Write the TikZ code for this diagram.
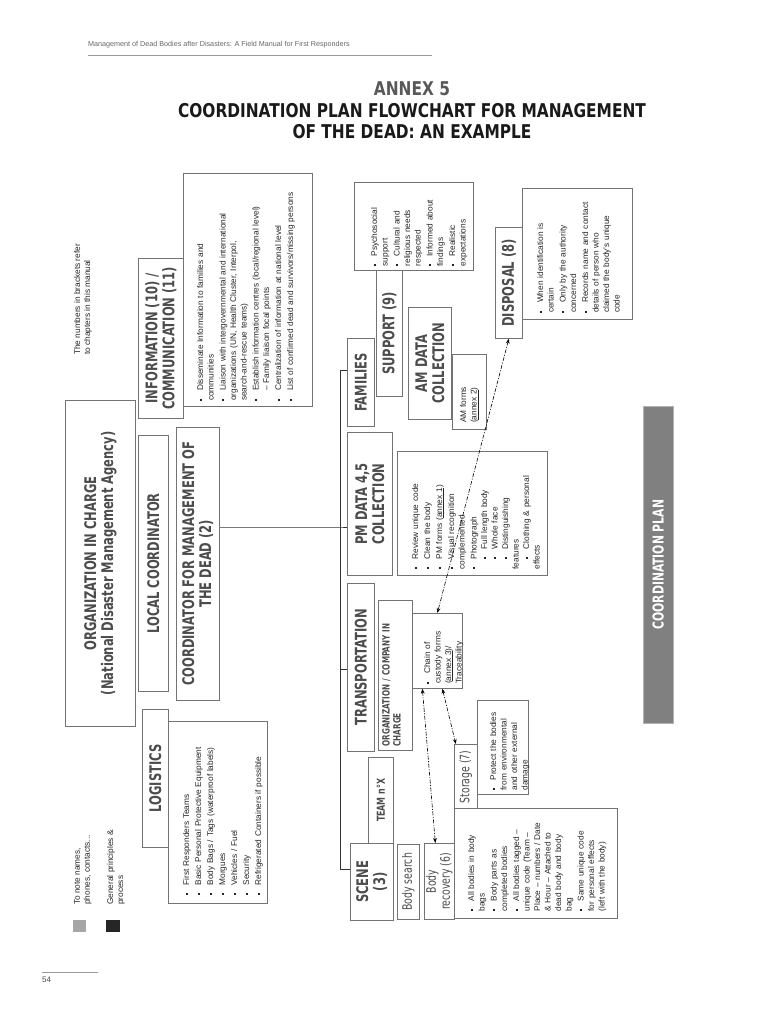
\documentclass[tikz,border=0pt]{standalone}
\usepackage{fontspec}
\setmainfont{Liberation Sans}
\newfontfamily\hd[FakeStretch=0.8]{DejaVu Sans Condensed}
\newfontfamily\ttl[FakeStretch=0.9]{DejaVu Sans Condensed}
\usetikzlibrary{arrows.meta}
\newcommand\itm[1]{\par\vspace{1.5pt}\hangindent=10pt\hangafter=1\noindent\makebox[10pt][l]{\rule[1.5pt]{2.2pt}{2.2pt}}#1}
\newcommand\sitm[1]{\par\hangindent=20pt\hangafter=1\noindent\hspace*{10pt}\makebox[10pt][l]{\rule[1.5pt]{2pt}{2pt}}#1}
\newcommand\nitm[1]{\par\hangindent=10pt\hangafter=1\noindent\hspace*{10pt}#1}
\newcommand\BX[6]{\node[bx,anchor=north west,minimum width={(#4-#2)*1pt},minimum height={(#5-#3)*1pt},#6] (#1) at (#2,#3) {};}
\newcommand\HT[3][]{\node[rotate=90,hdt,#1] at (#2.center) {#3};}
\newcommand\CT[4]{\node[rotate=90,anchor=north,ct,text width=#3] at ([xshift=#4]#1.west) {\noindent\ignorespaces};}
\begin{document}
\begin{tikzpicture}[x=1pt,y=-1pt,
  bx/.style={draw=black!55,line width=0.7pt,inner sep=0pt,fill=white},
  hdt/.style={font={\hd\bfseries\fontsize{16}{17}\selectfont},text=black!70,align=center,inner sep=0pt},
  ct/.style={font={\fontsize{8.3}{10.5}\selectfont},align=left,inner sep=0pt,text=black!85},
  link/.style={line width=0.9pt,draw=black!80},
  dd/.style={line width=0.6pt,dash pattern=on 4pt off 1.5pt on 1pt off 1.5pt,{Stealth[length=5pt]}-{Stealth[length=5pt]}}]
\useasboundingbox (0,0) rectangle (770,1024);
% page header
\node[anchor=west,font=\fontsize{7.2}{8}\selectfont,text=black!60,inner sep=0] (runhead) at (88,45) {Management of Dead Bodies after Disasters: A Field Manual for First Responders};
\draw[black!40,line width=0.5pt] (88,55) -- (432,55);
\node[font={\ttl\bfseries\fontsize{19}{21}\selectfont},text=black!65,inner sep=0] (annex) at (412,89) {ANNEX 5};
\node[font={\ttl\bfseries\fontsize{19}{21}\selectfont},text=black!90,inner sep=0,align=center] (title) at (412,121) {COORDINATION PLAN FLOWCHART FOR MANAGEMENT\\OF THE DEAD: AN EXAMPLE};
% page number
\draw[black!40,line width=0.5pt] (42,972) -- (98,972);
\node[anchor=north west,font=\fontsize{8}{9}\selectfont,text=black!70,inner sep=0] (pnum) at (42,977) {54};
% legend
\node[rotate=90,anchor=north west,font={\fontsize{8.3}{10}\selectfont},align=left,inner sep=0,text=black!85] (note1) at (74,355) {The numbers in brackets refer\\to chapters in this manual};
\node[rotate=90,anchor=north west,font={\fontsize{8.3}{10}\selectfont},align=left,inner sep=0,text=black!85] (note2) at (74,905) {To note names,\\phones, contacts...};
\node[rotate=90,anchor=north west,font={\fontsize{8.3}{10}\selectfont},align=left,inner sep=0,text=black!85] (note3) at (107,905) {General principles \&\\process};
\node[fill=black!35,minimum width=13pt,minimum height=12pt,inner sep=0,anchor=north west] (lgray) at (73,920) {};
\node[fill=black!85,minimum width=14pt,minimum height=12pt,inner sep=0,anchor=north west] (lblack) at (106,920) {};
% boxes
\BX{org}{65}{400}{135}{726}{}
\HT{org}{ORGANIZATION IN CHARGE\\(National Disaster Management Agency)}
\BX{infoh}{138}{258}{183}{418}{}
\HT{infoh}{INFORMATION (10) /\\COMMUNICATION (11)}
\BX{infot}{183}{173}{312}{406}{}
\node[rotate=90,anchor=north,ct,text width=222pt] at ([xshift=8pt]infot.west) {\itm{Disseminate Information to families and\\communities}\itm{Liaison with intergovernmental and international\\organizations (UN, Health Cluster, Interpol,\\search-and-rescue teams)}\itm{Establish information centres (local/regional level)}\nitm{-- Family liaison focal points}\itm{Centralization of information at national level}\itm{List of confirmed dead and survivors/missing persons}};
\BX{locc}{138}{435}{168}{691}{}
\HT{locc}{LOCAL COORDINATOR}
\BX{coord}{176}{427}{219}{700}{}
\HT{coord}{COORDINATOR FOR MANAGEMENT OF\\THE DEAD (2)}
\BX{logh}{142}{709}{168}{847}{}
\HT{logh}{LOGISTICS}
\BX{logt}{168}{721}{267}{903}{}
\node[rotate=90,anchor=north,ct,text width=166pt] at ([xshift=9pt]logt.west) {\itm{First Responders Teams}\itm{Basic Personal Protective Equipment}\itm{Body Bags / Tags (waterproof labels)}\itm{Morgues}\itm{Vehicles / Fuel}\itm{Security}\itm{Refrigerated Containers if possible}};
% right side
\BX{fam}{347}{338}{374}{426}{}
\HT{fam}{FAMILIES}
\BX{supt}{354}{182}{473}{270}{}
\node[rotate=90,anchor=north,ct,text width=80pt] at ([xshift=11pt]supt.west) {\itm{Psychosocial\\support}\itm{Cultural and\\religious needs\\respected}\itm{Informed about\\findings}\itm{Realistic\\expectations}};
\BX{sup}{376}{270}{402}{396}{}
\HT{sup}{SUPPORT (9)}
\BX{am}{408}{307}{451}{419}{}
\HT{am}{AM DATA\\COLLECTION}
\BX{amt}{452}{354}{486}{429}{}
\node[rotate=90,anchor=north,ct,text width=62pt] at ([xshift=8pt]amt.west) {AM forms\\(\underline{annex 2})};
\BX{dispt}{522}{188}{632}{319}{}
\node[rotate=90,anchor=north,ct,text width=118pt] at ([xshift=9pt]dispt.west) {\itm{When identification is\\certain}\itm{Only by the authority\\concerned}\itm{Records name and contact\\details of person who\\claimed the body's unique\\code}};
\BX{disp}{495}{227}{522}{338}{}
\HT{disp}{DISPOSAL (8)}
\BX{pm}{347}{432}{392}{575}{}
\HT{pm}{PM DATA 4,5\\COLLECTION}
\BX{pmt}{397}{451}{547}{575}{}
\node[rotate=90,anchor=north,ct,text width=112pt] at ([xshift=9pt]pmt.west) {\itm{Review unique code}\itm{Clean the body}\itm{PM forms (\underline{annex 1})}\itm{Visual recognition\\complemented}\itm{Photograph}\sitm{Full length body}\sitm{Whole face}\sitm{Distinguishing\\features}\sitm{Clothing \& personal\\effects}};
\node[fill=black!50,draw=black!30,minimum width=30pt,minimum height=317pt,inner sep=0,anchor=north west] (cplan) at (643,406) {};
\node[rotate=90,font={\hd\bfseries\fontsize{15}{16}\selectfont},text=white,inner sep=0] at (cplan.center) {COORDINATION PLAN};
\BX{trans}{347}{583}{374}{751}{}
\HT{trans}{TRANSPORTATION}
\BX{orgc}{378}{600}{412}{750}{}
\node[rotate=90,anchor=north,inner sep=0,text width=142pt,align=left,font={\hd\bfseries\fontsize{10}{11}\selectfont},text=black!70] at ([xshift=4pt]orgc.west) {ORGANIZATION / COMPANY IN\\CHARGE};
\BX{chain}{412}{613}{462}{688}{}
\node[rotate=90,anchor=north,ct,text width=66pt] at ([xshift=6pt]chain.west) {\itm{Chain of\\custody forms\\(\underline{annex 3})/\\Traceability}};
\BX{stort}{477}{700}{528}{794}{}
\node[rotate=90,anchor=north,ct,text width=86pt] at ([xshift=7pt]stort.west) {\itm{Protect the bodies\\from environmental\\and other external\\damage}};
\BX{stor}{454}{744}{477}{809}{}
\HT[font={\hd\fontsize{13}{14}\selectfont}]{stor}{Storage (7)}
\BX{team}{368}{757}{393}{843}{}
\HT[font={\hd\bfseries\fontsize{11}{12}\selectfont}]{team}{TEAM n°X}
\BX{scene}{350}{843}{393}{920}{}
\HT{scene}{SCENE\\(3)}
\BX{bsearch}{397}{844}{419}{919}{}
\HT[font={\hd\fontsize{13}{14}\selectfont}]{bsearch}{Body search}
\BX{brec}{424}{843}{454}{919}{}
\HT[font={\hd\fontsize{13}{14}\selectfont}]{brec}{Body\\recovery (6)}
\BX{brect}{454}{808}{617}{918}{}
\node[rotate=90,anchor=north,ct,text width=96pt] at ([xshift=8pt]brect.west) {\itm{All bodies in body\\bags}\itm{Body parts as\\completed bodies}\itm{All bodies tagged --\\unique code (Team --\\Place -- numbers / Date\\\& Hour -- Attached to\\dead body and body\\bag}\itm{Same unique code\\for personal effects\\(left with the body)}};
% tree connectors
\coordinate (jtop) at (340,370);
\coordinate (jmid) at (340,527);
\coordinate (jtr) at (340,669);
\coordinate (jbot) at (340,869);
\draw[link] (jtop) -- (jbot);
\draw[link] (jmid -| coord.east) -- (jmid) -- (jmid -| pm.west);
\draw[link] (jtop) -- (jtop -| fam.west);
\draw[link] (jtr) -- (jtr -| trans.west);
\draw[link] (jbot) -- (jbot -| scene.west);
% dashed arrows
\draw[dd] (disp.south) -- (chain.north);
\draw[dd] ([xshift=-15pt]chain.south) -- ([xshift=-4pt]brec.north);
\draw[dd] ([xshift=5pt]chain.south) -- ([xshift=-10pt]stor.north);
\end{tikzpicture}
\end{document}
